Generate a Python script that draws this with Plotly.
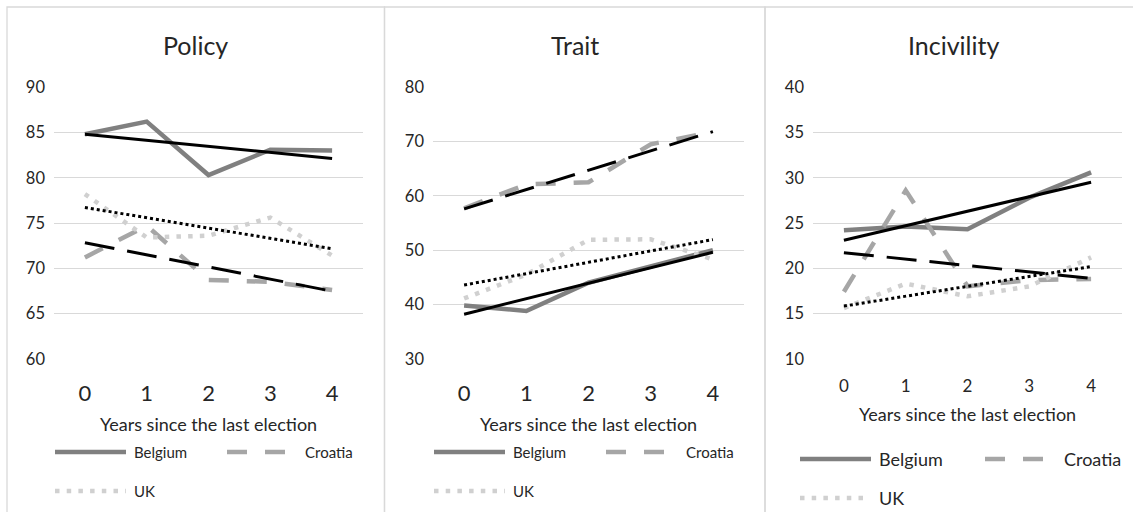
import numpy as np
import plotly.graph_objects as go

# Years since the last election (x categories)
years = [0, 1, 2, 3, 4]
year_labels = ["0", "1", "2", "3", "4"]

countries = ["Belgium", "Croatia", "UK"]

# Policy
policy_belgium = [84.8, 86.2, 80.3, 83.1, 83.0]
policy_croatia = [71.2, 74.7, 68.7, 68.5, 67.6]
policy_uk = [78.2, 73.4, 73.6, 75.6, 71.4]

# Trait
trait_belgium = [39.8, 38.8, 44.0, 46.9, 50.0]
trait_croatia = [57.7, 62.1, 62.5, 69.5, 71.8]
trait_uk = [41.1, 45.5, 51.9, 52.0, 48.3]

# Incivility
incivility_belgium = [24.2, 24.6, 24.3, 27.8, 30.6]
incivility_croatia = [17.4, 28.6, 18.0, 18.7, 18.8]
incivility_uk = [15.6, 18.3, 16.9, 18.0, 21.2]

panel_titles = ["Policy", "Trait", "Incivility"]
y_ranges = [(60, 90), (30, 80), (10, 40)]
y_dtick = [5, 10, 5]

W, H = 1133, 512
FONT = "Lato"
TEXT = "#262626"
GRID = "#d9d9d9"

# series styles: (colour, width, dash)
series_style = {
    "Belgium": ("#808080", 4.5, "solid"),
    "Croatia": ("#a6a6a6", 4.5, "20px,18px"),
    "UK": ("#d0d0d0", 4.5, "4.5px,7.2px"),
}
trend_style = {
    "Belgium": ("#000000", 3, "solid"),
    "Croatia": ("#000000", 3, "30px,13px"),
    "UK": ("#000000", 3, "3px,3px"),
}

panels = [
    [policy_belgium, policy_croatia, policy_uk],
    [trait_belgium, trait_croatia, trait_uk],
    [incivility_belgium, incivility_croatia, incivility_uk],
]

# plot-area geometry in pixels (left, right), shared top/bottom
plot_x = [(54, 363), (433, 744), (813, 1122)]
plot_top, plot_bottom = 87, 359
# panel frames (left, right)
frames = [(7, 384.5), (384.5, 765), (765, 1141)]


def px(x):
    return x / W


def py(y):
    return 1 - y / H


fig = go.Figure()

for i, series in enumerate(panels):
    xa = "x" if i == 0 else f"x{i + 1}"
    ya = "y" if i == 0 else f"y{i + 1}"
    # observed series
    for name, vals in zip(countries, series):
        c, w, d = series_style[name]
        fig.add_trace(go.Scatter(x=years, y=vals, mode="lines", name=name,
                                 line=dict(color=c, width=w, dash=d),
                                 xaxis=xa, yaxis=ya, showlegend=False,
                                 hoverinfo="skip"))
    # linear trend of each series
    for name, vals in zip(countries, series):
        slope, intercept = np.polyfit(years, vals, 1)
        trend = [intercept + slope * x for x in years]
        c, w, d = trend_style[name]
        fig.add_trace(go.Scatter(x=years, y=trend, mode="lines",
                                 name=f"Linear ({name})",
                                 line=dict(color=c, width=w, dash=d),
                                 xaxis=xa, yaxis=ya, showlegend=False,
                                 hoverinfo="skip"))

layout = dict(
    template="none",
    width=W, height=H, autosize=False,
    margin=dict(l=0, r=0, t=0, b=0, pad=0, autoexpand=False),
    paper_bgcolor="white", plot_bgcolor="white",
    font=dict(family=FONT, color=TEXT),
    showlegend=False,
)

shapes = []
annotations = []
big_ticks = [22, 22, 17]
title_y = [424, 424, 414]
legend_font = [15, 15, 18]

for i in range(3):
    sfx = "" if i == 0 else str(i + 1)
    l, r = plot_x[i]
    lo, hi = y_ranges[i]
    layout[f"xaxis{sfx}"] = dict(
        domain=[px(l), px(r)], anchor=f"y{sfx}", range=[-0.5, 4.5],
        tickmode="array", tickvals=years, ticktext=year_labels,
        showgrid=False, zeroline=False, showline=False, ticks="",
        automargin=False,
        tickfont=dict(size=big_ticks[i], color=TEXT, family=FONT),
        ticklabelstandoff=19 if i < 2 else 15,
    )
    layout[f"yaxis{sfx}"] = dict(
        domain=[py(plot_bottom), py(plot_top)], anchor=f"x{sfx}",
        range=[lo - 0.001 * (hi - lo), hi + 0.001 * (hi - lo)],
        tick0=lo, dtick=y_dtick[i],
        showgrid=True, gridcolor=GRID, gridwidth=1.3,
        zeroline=False, showline=False, ticks="",
        automargin=False,
        tickfont=dict(size=16.5, color=TEXT, family=FONT),
        ticklabelstandoff=8,
    )

    # chart frame; its bottom edge lies below the visible page
    fl, fr = frames[i]
    shapes.append(dict(type="rect", xref="paper", yref="paper",
                       x0=px(fl), x1=px(fr), y0=-0.05, y1=py(7),
                       line=dict(color=GRID, width=1.3),
                       fillcolor="rgba(0,0,0,0)", layer="below"))

    annotations.append(dict(text=panel_titles[i], xref="paper", yref="paper",
                            x=px((fl + fr) / 2), y=py(45),
                            xanchor="center", yanchor="middle",
                            showarrow=False,
                            font=dict(size=25, color=TEXT, family=FONT)))
    annotations.append(dict(text="Years since the last election",
                            xref="paper", yref="paper",
                            x=px((l + r) / 2), y=py(title_y[i]),
                            xanchor="center", yanchor="middle",
                            showarrow=False,
                            font=dict(size=18, color=TEXT, family=FONT)))

# legend samples and labels for each panel
legend_rows = [
    dict(r1=452, r2=491, bel=(55, 126), cro=(227, 285), uk=(55, 126),
         tbel=132, tcro=303, tuk=132),
    dict(r1=452, r2=491, bel=(434, 505), cro=(606, 666), uk=(434, 505),
         tbel=511, tcro=684, tuk=511),
    dict(r1=459, r2=498, bel=(800, 871), cro=(985, 1049), uk=(800, 866),
         tbel=877, tcro=1062, tuk=877),
]

for i, lg in enumerate(legend_rows):
    entries = [("Belgium", lg["bel"], lg["r1"], lg["tbel"]),
               ("Croatia", lg["cro"], lg["r1"], lg["tcro"]),
               ("UK", lg["uk"], lg["r2"], lg["tuk"])]
    for name, (x0, x1), yy, tx in entries:
        c, w, d = series_style[name]
        shapes.append(dict(type="line", xref="paper", yref="paper",
                           x0=px(x0), x1=px(x1), y0=py(yy), y1=py(yy),
                           line=dict(color=c, width=w, dash=d)))
        annotations.append(dict(text=name, xref="paper", yref="paper",
                                x=px(tx), y=py(yy), xanchor="left",
                                yanchor="middle", showarrow=False,
                                font=dict(size=legend_font[i], color=TEXT,
                                          family=FONT)))

layout["shapes"] = shapes
layout["annotations"] = annotations
fig.update_layout(**layout)

fig.write_html("out.html")
